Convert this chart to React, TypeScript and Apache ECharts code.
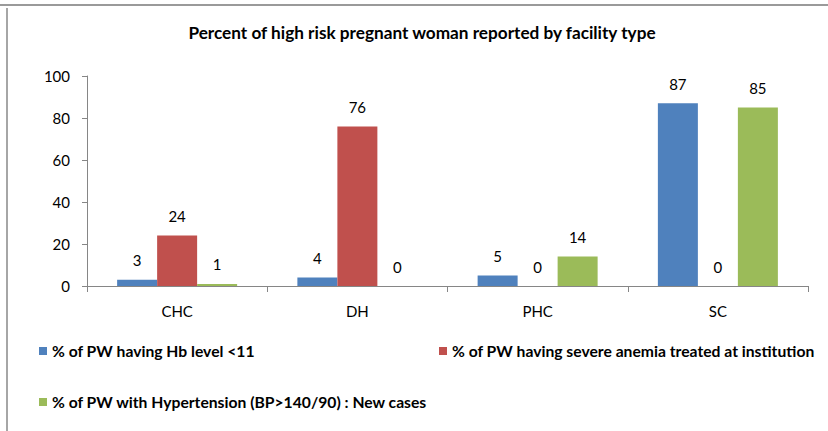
import React, { useEffect, useRef } from "react";
import * as echarts from "echarts";

const categories = ["CHC", "DH", "PHC", "SC"];
const seriesNames = [
  "% of PW having Hb level <11",
  "% of PW having severe anemia treated at institution",
  "% of PW with Hypertension (BP>140/90) : New cases",
];
const hbLevel = [3, 4, 5, 87];
const severeAnemia = [24, 76, 0, 0];
const hypertension = [1, 0, 14, 85];
const yTicks = { min: 0, max: 100, interval: 20 };
const colors = ["#4F81BD", "#C0504D", "#9BBB59"];

const FONT = "Lato, 'Open Sans', sans-serif";

export default function App() {
  const ref = useRef<HTMLDivElement>(null);
  useEffect(() => {
    if (!ref.current) return;
    const chart = echarts.init(ref.current, null, { renderer: "svg" });
    const values = [hbLevel, severeAnemia, hypertension];
    const legendPos = [
      { left: 39, top: 343 },
      { left: 439, top: 343 },
      { left: 39, top: 394 },
    ];
    chart.setOption({
      animation: false,
      backgroundColor: "#ffffff",
      textStyle: { fontFamily: FONT },
      title: {
        text: "Percent of high risk pregnant woman reported by facility type",
        left: 417,
        textAlign: "center",
        top: 19,
        textStyle: { fontFamily: FONT, fontSize: 17.2, fontWeight: "bold", color: "#000" },
      },
      legend: seriesNames.map((n, i) => ({
        data: [n],
        left: legendPos[i].left,
        top: legendPos[i].top,
        padding: 0,
        icon: "rect",
        itemWidth: 8,
        itemHeight: 8,
        selectedMode: false,
        textStyle: {
          fontFamily: FONT,
          fontSize: 15.7,
          fontWeight: "bold",
          color: "#000",
        },
      })),
      grid: { left: 87, right: 20, top: 76, bottom: 145, containLabel: false },
      xAxis: {
        type: "category",
        data: categories,
        axisLine: { show: true, lineStyle: { color: "#868686", width: 1 } },
        axisTick: { show: true, length: 6, lineStyle: { color: "#868686" } },
        axisLabel: { margin: 17, fontSize: 15, color: "#000", fontFamily: FONT },
        splitLine: { show: false },
      },
      yAxis: {
        type: "value",
        min: yTicks.min,
        max: yTicks.max,
        interval: yTicks.interval,
        axisLine: { show: true, lineStyle: { color: "#868686", width: 1 } },
        axisTick: { show: true, length: 5, lineStyle: { color: "#868686" } },
        axisLabel: { margin: 17, fontSize: 15, color: "#000", fontFamily: FONT },
        splitLine: { show: false },
      },
      series: seriesNames.map((n, i) => ({
        name: n,
        type: "bar",
        data: values[i],
        barWidth: 40,
        barGap: "0%",
        itemStyle: { color: colors[i] },
        label: {
          show: true,
          position: "top",
          distance: 12,
          fontSize: 15,
          color: "#000",
          fontFamily: FONT,
        },
      })),
      graphic: [
        {
          type: "line",
          shape: { x1: 0, y1: 5, x2: 828, y2: 5 },
          style: { stroke: "#9a9a9a", lineWidth: 2 },
          silent: true,
        },
        {
          type: "line",
          shape: { x1: 7, y1: 8, x2: 7, y2: 431 },
          style: { stroke: "#a6a6a6", lineWidth: 2 },
          silent: true,
        },
      ],
    });
    return () => chart.dispose();
  }, []);
  return (
    <div
      ref={ref}
      style={{ position: "fixed", left: 0, top: 0, width: 828, height: 431 }}
    />
  );
}
